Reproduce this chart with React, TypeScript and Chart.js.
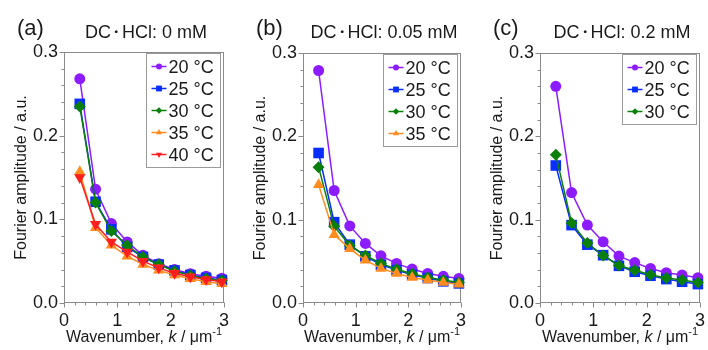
import React, { useEffect, useRef } from 'react';
import { Chart, registerables } from 'chart.js';

Chart.register(...registerables);

// ---------------- data ----------------
const wavenumbers = [0.296, 0.592, 0.888, 1.184, 1.48, 1.776, 2.072, 2.368, 2.664, 2.96];
const temperatureLabels = ['20 °C', '25 °C', '30 °C', '35 °C', '40 °C'];

const panelA_20 = [0.268, 0.136, 0.095, 0.073, 0.057, 0.047, 0.040, 0.035, 0.032, 0.0295];
const panelA_25 = [0.238, 0.121, 0.088, 0.067, 0.055, 0.046, 0.039, 0.0335, 0.030, 0.0275];
const panelA_30 = [0.235, 0.120, 0.086, 0.069, 0.055, 0.046, 0.038, 0.033, 0.029, 0.027];
const panelA_35 = [0.157, 0.090, 0.069, 0.056, 0.046, 0.039, 0.0335, 0.029, 0.0255, 0.023];
const panelA_40 = [0.150, 0.094, 0.073, 0.061, 0.050, 0.042, 0.0355, 0.0315, 0.028, 0.0255];

const panelB_20 = [0.279, 0.135, 0.0925, 0.0715, 0.0566, 0.0475, 0.0407, 0.0355, 0.032, 0.0295];
const panelB_25 = [0.180, 0.097, 0.070, 0.056, 0.046, 0.0395, 0.034, 0.030, 0.026, 0.0235];
const panelB_30 = [0.163, 0.092, 0.069, 0.057, 0.0475, 0.0406, 0.035, 0.0307, 0.0275, 0.0247];
const panelB_35 = [0.142, 0.082, 0.065, 0.0514, 0.0415, 0.0355, 0.0307, 0.0275, 0.0247, 0.0224];

const panelC_20 = [0.260, 0.1325, 0.0935, 0.0735, 0.0563, 0.0485, 0.0415, 0.0363, 0.0335, 0.0304];
const panelC_25 = [0.165, 0.0935, 0.070, 0.0574, 0.0446, 0.0375, 0.0327, 0.0287, 0.0255, 0.0227];
const panelC_30 = [0.178, 0.096, 0.072, 0.057, 0.045, 0.0394, 0.034, 0.030, 0.0275, 0.0247];

const panelLetters = ['(a)', '(b)', '(c)'];
const panelTitles = ['DC・HCl: 0 mM', 'DC・HCl: 0.05 mM', 'DC・HCl: 0.2 mM'];
const panelSeries = [
  [panelA_20, panelA_25, panelA_30, panelA_35, panelA_40],
  [panelB_20, panelB_25, panelB_30, panelB_35],
  [panelC_20, panelC_25, panelC_30],
];
const yAxisTitle = 'Fourier amplitude / a.u.';
const xAxisTitleParts = ['Wavenumber, ', 'k', ' / μm', '-1'];

// ---------------- styles ----------------
const FONT = '"Liberation Sans", Arial, Helvetica, sans-serif';
const AXIS_COLOR = '#8a8a8a';
const TEXT_COLOR = '#1a1a1a';
const seriesStyles = [
  { color: '#8C1CFF', pointStyle: 'circle', radius: 5.5, rotation: 0 },
  { color: '#0A2EFF', pointStyle: 'rect', radius: 7.5, rotation: 0 },
  { color: '#0A800A', pointStyle: 'rectRot', radius: 6, rotation: 0 },
  { color: '#FF8C1E', pointStyle: 'triangle', radius: 6.5, rotation: 0 },
  { color: '#FF1E1E', pointStyle: 'triangle', radius: 6.5, rotation: 180 },
];
const panelGeom = [
  { yWidth: 64, right: 12, top: 52 },
  { yWidth: 67, right: 11, top: 53 },
  { yWidth: 68, right: 8, top: 53 },
];

function drawMarker(ctx: CanvasRenderingContext2D, style: string, x: number, y: number, r: number, rotDeg: number) {
  ctx.beginPath();
  const rad = (rotDeg * Math.PI) / 180;
  if (style === 'circle') {
    ctx.arc(x, y, r, 0, Math.PI * 2);
  } else if (style === 'rect') {
    const s = Math.SQRT1_2 * r;
    ctx.rect(x - s, y - s, 2 * s, 2 * s);
  } else if (style === 'rectRot') {
    ctx.moveTo(x, y - r);
    ctx.lineTo(x + r, y);
    ctx.lineTo(x, y + r);
    ctx.lineTo(x - r, y);
  } else if (style === 'triangle') {
    let a = rad;
    ctx.moveTo(x + Math.sin(a) * r, y - Math.cos(a) * r);
    a += (2 * Math.PI) / 3;
    ctx.lineTo(x + Math.sin(a) * r, y - Math.cos(a) * r);
    a += (2 * Math.PI) / 3;
    ctx.lineTo(x + Math.sin(a) * r, y - Math.cos(a) * r);
  }
  ctx.closePath();
  ctx.fill();
}

const isMajorX = (v: number) => Math.abs(v - Math.round(v)) < 1e-6;
const isMajorY = (v: number) => Math.abs(v * 10 - Math.round(v * 10)) < 1e-6;

const decorPlugin = {
  id: 'decor',
  beforeDatasetsDraw(chart: any) {
    const { ctx, chartArea: ca, scales } = chart;
    ctx.save();
    ctx.strokeStyle = AXIS_COLOR;
    ctx.lineWidth = 1;
    const L = Math.round(ca.left) + 0.5;
    const R = Math.round(ca.right) - 0.5;
    const T = Math.round(ca.top) + 0.5;
    const B = Math.round(ca.bottom) - 0.5;
    ctx.strokeRect(L, T, R - L, B - T);
    ctx.beginPath();
    for (const t of scales.x.ticks) {
      const px = Math.round(scales.x.getPixelForValue(t.value)) + 0.5;
      const len = isMajorX(t.value) ? 5 : 3;
      ctx.moveTo(px, B);
      ctx.lineTo(px, B + len);
    }
    for (const t of scales.y.ticks) {
      const py = Math.round(scales.y.getPixelForValue(t.value)) + 0.5;
      const len = isMajorY(t.value) ? 5 : 3;
      ctx.moveTo(L, py);
      ctx.lineTo(L - len, py);
    }
    ctx.stroke();
    ctx.restore();
  },
  afterDraw(chart: any, _args: any, opts: any) {
    const { ctx, chartArea: ca } = chart;
    ctx.save();
    ctx.fillStyle = TEXT_COLOR;
    // panel letter
    ctx.font = `22px ${FONT}`;
    ctx.textAlign = 'left';
    ctx.textBaseline = 'alphabetic';
    ctx.fillText(opts.letter, ca.left - 47, 35);
    // title: the middle dot sits in a narrow gap, as in the original figure
    ctx.font = `18px ${FONT}`;
    const title: string = opts.title;
    const dotIdx = title.indexOf('・');
    const before = dotIdx >= 0 ? title.slice(0, dotIdx) : title;
    const after = dotIdx >= 0 ? title.slice(dotIdx + 1) : '';
    const dotGap = dotIdx >= 0 ? 11 : 0;
    const wB = ctx.measureText(before).width;
    const wA = ctx.measureText(after).width;
    let tx = (ca.left + ca.right) / 2 + 2 - (wB + dotGap + wA) / 2;
    ctx.textAlign = 'left';
    ctx.fillText(before, tx, 38);
    tx += wB;
    if (dotIdx >= 0) {
      ctx.textAlign = 'center';
      ctx.fillText('・', tx + dotGap / 2, 38);
      ctx.textAlign = 'left';
      tx += dotGap;
    }
    ctx.fillText(after, tx, 38);
    // y title
    ctx.save();
    ctx.translate(ca.left - 42, (ca.top + ca.bottom) / 2);
    ctx.rotate(-Math.PI / 2);
    ctx.font = `16px ${FONT}`;
    ctx.textAlign = 'center';
    ctx.textBaseline = 'middle';
    ctx.fillText(yAxisTitle, 0, 0);
    ctx.restore();
    // x title with italic k and superscript
    const [p1, p2, p3, p4] = xAxisTitleParts;
    ctx.textAlign = 'left';
    ctx.textBaseline = 'alphabetic';
    const fN = `16px ${FONT}`;
    const fI = `italic 16px ${FONT}`;
    const fS = `11px ${FONT}`;
    ctx.font = fN; const w1 = ctx.measureText(p1).width; const w3 = ctx.measureText(p3).width;
    ctx.font = fI; const w2 = ctx.measureText(p2).width;
    ctx.font = fS; const w4 = ctx.measureText(p4).width;
    const total = w1 + w2 + w3 + w4;
    let x = (ca.left + ca.right) / 2 - total / 2;
    const by = 341.5;
    ctx.font = fN; ctx.fillText(p1, x, by); x += w1;
    ctx.font = fI; ctx.fillText(p2, x, by); x += w2;
    ctx.font = fN; ctx.fillText(p3, x, by); x += w3;
    ctx.font = fS; ctx.fillText(p4, x, by - 7);
    // legend
    const ds = chart.data.datasets;
    const rows = ds.length;
    const boxW = 74;
    const boxR = Math.round(ca.right) - 3.5;
    const boxL = boxR - boxW;
    const boxT = Math.round(ca.top) + 1.5;
    const boxH = rows * 22 + 4;
    ctx.fillStyle = '#ffffff';
    ctx.fillRect(boxL, boxT, boxW, boxH);
    ctx.strokeStyle = '#9a9a9a';
    ctx.lineWidth = 1;
    ctx.strokeRect(boxL, boxT, boxW, boxH);
    ctx.font = `18px ${FONT}`;
    ds.forEach((d: any, i: number) => {
      const st = seriesStyles[i];
      const cy = boxT + 13 + i * 22;
      ctx.strokeStyle = st.color;
      ctx.lineWidth = 1.5;
      ctx.beginPath();
      ctx.moveTo(boxL + 5, cy);
      ctx.lineTo(boxL + 20, cy);
      ctx.stroke();
      ctx.fillStyle = st.color;
      drawMarker(ctx, st.pointStyle, boxL + 12.5, cy, st.radius * 0.55, st.rotation);
      ctx.fillStyle = TEXT_COLOR;
      ctx.fillText(d.label, boxL + 22, cy + 6.5);
    });
    ctx.restore();
  },
};

function Panel({ index }: { index: number }) {
  const ref = useRef<HTMLCanvasElement>(null);
  useEffect(() => {
    const geom = panelGeom[index];
    const series = panelSeries[index];
    const datasets = series.map((vals, i) => {
      const st = seriesStyles[i];
      return {
        label: temperatureLabels[i],
        data: wavenumbers.map((k, j) => ({ x: k, y: vals[j] })),
        borderColor: st.color,
        backgroundColor: st.color,
        borderWidth: 1.5,
        pointStyle: st.pointStyle,
        pointRadius: st.radius,
        pointRotation: st.rotation,
        pointBorderWidth: 0,
        pointBackgroundColor: st.color,
        tension: 0,
        order: 10 - i,
        clip: false,
      };
    });
    const chart = new Chart(ref.current!, {
      type: 'line',
      data: { datasets },
      options: {
        animation: false,
        responsive: false,
        devicePixelRatio: 1,
        layout: { padding: { top: geom.top, right: geom.right, left: 0, bottom: 0 } },
        plugins: {
          legend: { display: false },
          tooltip: { enabled: false },
          decor: { letter: panelLetters[index], title: panelTitles[index] },
        } as any,
        scales: {
          x: {
            type: 'linear',
            min: 0,
            max: 3,
            grid: { display: false, drawTicks: true, tickLength: 5 },
            border: { display: false },
            ticks: {
              stepSize: 0.2,
              autoSkip: false,
              maxRotation: 0,
              padding: 2,
              color: TEXT_COLOR,
              font: { size: 18, family: FONT },
              callback: (v: any) => (isMajorX(Number(v)) ? String(Math.round(Number(v))) : ''),
            },
            afterFit: (s: any) => { s.height = 47; },
          },
          y: {
            type: 'linear',
            min: 0,
            max: 0.3,
            grid: { display: false, drawTicks: true, tickLength: 5 },
            border: { display: false },
            ticks: {
              stepSize: 0.02,
              autoSkip: false,
              padding: 1,
              color: TEXT_COLOR,
              font: { size: 18, family: FONT },
              callback: (v: any) => (isMajorY(Number(v)) ? Number(v).toFixed(1) : ''),
            },
            afterFit: (s: any) => { s.width = geom.yWidth; },
          },
        },
      },
      plugins: [decorPlugin as any],
    });
    return () => chart.destroy();
  }, [index]);
  return (
    <canvas
      ref={ref}
      width={236}
      height={350}
      style={{ position: 'absolute', left: index * 236, top: 0, width: 236, height: 350 }}
    />
  );
}

export default function App() {
  return (
    <div style={{ position: 'fixed', left: 0, top: 0, width: 708, height: 350, background: '#fff' }}>
      <Panel index={0} />
      <Panel index={1} />
      <Panel index={2} />
    </div>
  );
}
